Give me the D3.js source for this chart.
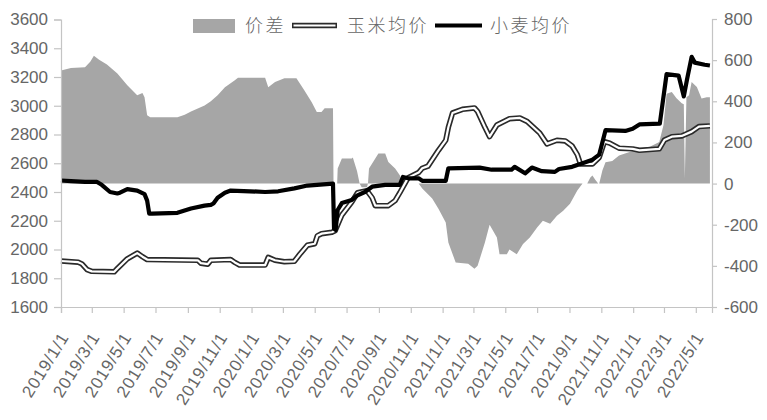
<!DOCTYPE html>
<html><head><meta charset="utf-8">
<script src="https://cdn.jsdelivr.net/npm/d3@7"></script>
<style>body{margin:0;background:#fff}svg{display:block}</style>
</head><body><svg id="c" width="767" height="420"></svg>
<script>
const xTickLabels = ["2019/1/1","2019/3/1","2019/5/1","2019/7/1","2019/9/1","2019/11/1",
  "2020/1/1","2020/3/1","2020/5/1","2020/7/1","2020/9/1","2020/11/1",
  "2021/1/1","2021/3/1","2021/5/1","2021/7/1","2021/9/1","2021/11/1",
  "2022/1/1","2022/3/1","2022/5/1"];
const leftTicks = [1600,1800,2000,2200,2400,2600,2800,3000,3200,3400,3600];
const rightTicks = [-600,-400,-200,0,200,400,600,800];
const legendLabels = ["价差","玉米均价","小麦均价"];

const spread = [
 ["2019-01-01",550],["2019-01-20",562],["2019-02-16",565],["2019-02-26",592],["2019-03-05",621],
 ["2019-03-15",602],["2019-03-30",579],["2019-04-19",535],["2019-05-08",478],["2019-05-27",429],
 ["2019-06-06",440],["2019-06-10",420],["2019-06-15",332],["2019-06-21",323],["2019-08-12",323],
 ["2019-08-26",335],["2019-09-07",350],["2019-10-03",380],["2019-10-15",400],["2019-10-28",429],
 ["2019-11-11",468],["2019-11-30",502],["2019-12-06",514],["2020-01-27",514],["2020-02-02",468],
 ["2020-02-15",494],["2020-03-04",512],["2020-03-27",512],["2020-04-11",454],["2020-04-25",397],
 ["2020-05-05",348],["2020-05-14",348],["2020-05-20",366],["2020-06-05",366],["2020-06-06",0],
 ["2020-06-13",0],["2020-06-14",73],["2020-06-22",122],["2020-07-11",122],["2020-07-13",127],
 ["2020-07-21",61],["2020-07-26",0],["2020-07-30",-18],["2020-08-09",-18],["2020-08-11",0],
 ["2020-08-13",73],["2020-08-25",122],["2020-08-31",146],["2020-09-13",146],["2020-09-19",105],
 ["2020-10-02",73],["2020-10-11",40],["2020-10-17",0],["2020-11-16",0],["2020-11-23",-24],
 ["2020-12-12",-73],["2020-12-24",-122],["2021-01-07",-189],["2021-01-12",-286],["2021-01-26",-384],
 ["2021-02-19",-390],["2021-03-03",-414],["2021-03-09",-400],["2021-03-23",-286],["2021-04-01",-200],
 ["2021-04-15",-262],["2021-04-20",-343],["2021-05-04",-343],["2021-05-09",-320],["2021-05-23",-343],
 ["2021-06-04",-294],["2021-06-17",-262],["2021-07-01",-213],["2021-07-12",-181],["2021-07-26",-195],
 ["2021-08-08",-156],["2021-08-20",-132],["2021-09-02",-98],["2021-09-16",-34],["2021-09-26",0],
 ["2021-10-05",0],["2021-10-11",30],["2021-10-15",39],["2021-10-20",20],["2021-10-26",0],
 ["2021-10-28",0],["2021-11-03",63],["2021-11-09",104],["2021-11-22",110],["2021-12-05",137],
 ["2021-12-25",153],["2022-01-13",171],["2022-02-02",179],["2022-02-20",202],["2022-02-28",283],
 ["2022-03-06",437],["2022-03-16",445],["2022-03-25",415],["2022-04-04",390],["2022-04-08",385],
 ["2022-04-10",25],["2022-04-13",420],["2022-04-18",429],["2022-04-23",494],["2022-05-03",470],
 ["2022-05-12",413],["2022-05-22",420],["2022-05-28",420]
];

const corn = [
 ["2019-01-01",1920],["2019-02-03",1912],["2019-02-10",1900],["2019-02-20",1860],["2019-03-01",1848],
 ["2019-04-13",1845],["2019-04-19",1868],["2019-05-08",1935],["2019-05-27",1975],["2019-06-06",1950],
 ["2019-06-15",1930],["2019-09-20",1925],["2019-09-26",1905],["2019-10-09",1898],["2019-10-15",1925],
 ["2019-11-22",1930],["2019-11-30",1910],["2019-12-09",1892],["2020-01-27",1892],["2020-02-02",1945],
 ["2020-02-15",1925],["2020-03-04",1915],["2020-03-23",1918],["2020-04-02",1965],["2020-04-17",2030],
 ["2020-05-01",2040],["2020-05-06",2095],["2020-05-14",2110],["2020-06-03",2120],["2020-06-09",2130],
 ["2020-06-22",2240],["2020-07-11",2330],["2020-07-22",2395],["2020-08-09",2410],["2020-08-19",2360],
 ["2020-08-25",2305],["2020-09-19",2305],["2020-10-02",2340],["2020-10-11",2395],["2020-10-27",2500],
 ["2020-11-16",2535],["2020-11-23",2565],["2020-12-04",2580],["2020-12-24",2690],["2021-01-07",2760],
 ["2021-01-12",2850],["2021-01-20",2950],["2021-02-08",2975],["2021-03-03",2985],["2021-03-09",2960],
 ["2021-03-23",2850],["2021-04-01",2785],["2021-04-15",2866],["2021-05-09",2910],["2021-05-29",2915],
 ["2021-06-12",2890],["2021-07-06",2810],["2021-07-20",2735],["2021-08-08",2760],["2021-08-24",2755],
 ["2021-09-06",2720],["2021-09-16",2660],["2021-09-22",2595],["2021-10-15",2595],["2021-10-28",2640],
 ["2021-11-07",2750],["2021-11-17",2740],["2021-12-05",2705],["2021-12-31",2700],["2022-01-13",2690],
 ["2022-02-20",2700],["2022-03-02",2762],["2022-03-16",2785],["2022-04-04",2790],["2022-04-23",2820],
 ["2022-05-07",2855],["2022-05-28",2860]
];

const wheat = [
 ["2019-01-01",2480],["2019-01-20",2475],["2019-02-16",2470],["2019-03-11",2470],["2019-03-20",2450],
 ["2019-04-05",2400],["2019-04-19",2390],["2019-04-24",2395],["2019-05-08",2420],["2019-05-27",2410],
 ["2019-06-10",2385],["2019-06-15",2340],["2019-06-19",2250],["2019-06-25",2250],["2019-08-12",2255],
 ["2019-09-07",2285],["2019-10-03",2305],["2019-10-15",2310],["2019-10-20",2320],["2019-10-28",2360],
 ["2019-11-11",2395],["2019-11-22",2410],["2019-12-29",2405],["2020-01-27",2400],["2020-02-21",2405],
 ["2020-03-23",2425],["2020-04-17",2445],["2020-06-05",2458],["2020-06-07",2145],["2020-06-10",2136],
 ["2020-06-14",2275],["2020-06-22",2323],["2020-07-11",2345],["2020-07-21",2375],["2020-08-05",2400],
 ["2020-08-19",2437],["2020-09-13",2450],["2020-10-11",2450],["2020-10-17",2505],["2020-10-27",2495],
 ["2020-11-16",2495],["2020-11-23",2478],["2021-01-07",2478],["2021-01-12",2565],["2021-03-13",2570],
 ["2021-04-05",2555],["2021-05-13",2555],["2021-05-19",2575],["2021-06-08",2530],["2021-06-21",2570],
 ["2021-07-10",2545],["2021-08-04",2540],["2021-08-12",2560],["2021-09-06",2575],["2021-09-26",2600],
 ["2021-10-15",2625],["2021-10-28",2660],["2021-11-09",2830],["2021-12-17",2825],["2021-12-31",2840],
 ["2022-01-13",2870],["2022-02-21",2875],["2022-03-06",3220],["2022-03-29",3210],["2022-04-08",3065],
 ["2022-04-14",3180],["2022-04-23",3340],["2022-04-29",3300],["2022-05-18",3285],["2022-05-28",3280]
];

const parseD = d3.timeParse("%Y-%m-%d");
const parseTick = d3.timeParse("%Y/%m/%d");
const toPts = arr => arr.map(([d,v]) => ({date: parseD(d), v}));

const svg = d3.select("#c");
const x = d3.scaleTime().domain([parseD("2019-01-01"), parseD("2022-06-01")]).range([61, 712]);
const yL = d3.scaleLinear().domain([1600, 3600]).range([307, 19.5]);
const yR = d3.scaleLinear().domain([-600, 800]).range([307, 19]);

const axisColor = "#c4c4c4", textColor = "#666";
const font = "'Liberation Sans', Arial, sans-serif";

// spread area
svg.append("path").datum(toPts(spread))
  .attr("fill", "#a6a6a6")
  .attr("d", d3.area().x(d => x(d.date)).y0(yR(0)).y1(d => yR(d.v)));

// corn double line
const lineL = d3.line().x(d => x(d.date)).y(d => yL(d.v));
svg.append("path").datum(toPts(corn)).attr("fill","none").attr("stroke","#2a2a2a")
  .attr("stroke-width",5.5).attr("stroke-linejoin","round").attr("d", lineL);
svg.append("path").datum(toPts(corn)).attr("fill","none").attr("stroke","#fff")
  .attr("stroke-width",2.2).attr("stroke-linejoin","round").attr("d", lineL);
// wheat
svg.append("path").datum(toPts(wheat)).attr("fill","none").attr("stroke","#000")
  .attr("stroke-width",4.2).attr("stroke-linejoin","round").attr("d", lineL);

// left axis
const gL = svg.append("g").attr("transform","translate(61,0)")
  .call(d3.axisLeft(yL).tickValues(leftTicks).tickSize(7).tickPadding(6).tickFormat(d3.format("d")));
// right axis
const gR = svg.append("g").attr("transform","translate(712,0)")
  .call(d3.axisRight(yR).tickValues(rightTicks).tickSize(5).tickPadding(7).tickFormat(d => String(d)));
// bottom axis
const tickDates = xTickLabels.map(s => parseTick(s));
const gB = svg.append("g").attr("transform","translate(0,307)")
  .call(d3.axisBottom(x).tickValues(tickDates).tickSize(6).tickFormat((d,i) => xTickLabels[i]));

[gL, gR, gB].forEach(g => {
  g.select(".domain").attr("stroke", axisColor).attr("stroke-width", 1.2);
  g.selectAll(".tick line").attr("stroke", axisColor).attr("stroke-width", 1.2);
  g.selectAll("text").attr("fill", textColor).style("font-family", font).style("font-size", "17px");
});
gB.selectAll(".tick text")
  .attr("text-anchor","end").attr("dy","0.35em").attr("y",0)
  .attr("transform","translate(3,27) rotate(-58)")
  .style("letter-spacing","0.8px");

// legend
const leg = svg.append("g");
leg.append("rect").attr("x",193).attr("y",19).attr("width",42).attr("height",14).attr("fill","#a6a6a6");
leg.append("line").attr("x1",292).attr("x2",337).attr("y1",25.5).attr("y2",25.5)
  .attr("stroke","#2a2a2a").attr("stroke-width",5.5);
leg.append("line").attr("x1",293.5).attr("x2",335.5).attr("y1",25.5).attr("y2",25.5)
  .attr("stroke","#fff").attr("stroke-width",2.2);
leg.append("line").attr("x1",435).attr("x2",482).attr("y1",25.5).attr("y2",25.5)
  .attr("stroke","#000").attr("stroke-width",4.2);
const legX = [245, 347, 490];
leg.selectAll("text.lg").data(legendLabels).join("text")
  .attr("class","lg")
  .attr("x",(d,i) => legX[i]).attr("y",26).attr("dy","0.35em")
  .attr("fill", textColor)
  .style("font-family","'Noto Sans CJK SC', sans-serif")
  .style("font-size","18px").style("font-weight","300").style("letter-spacing","2.5px")
  .text(d => d);
</script>
</body></html>
